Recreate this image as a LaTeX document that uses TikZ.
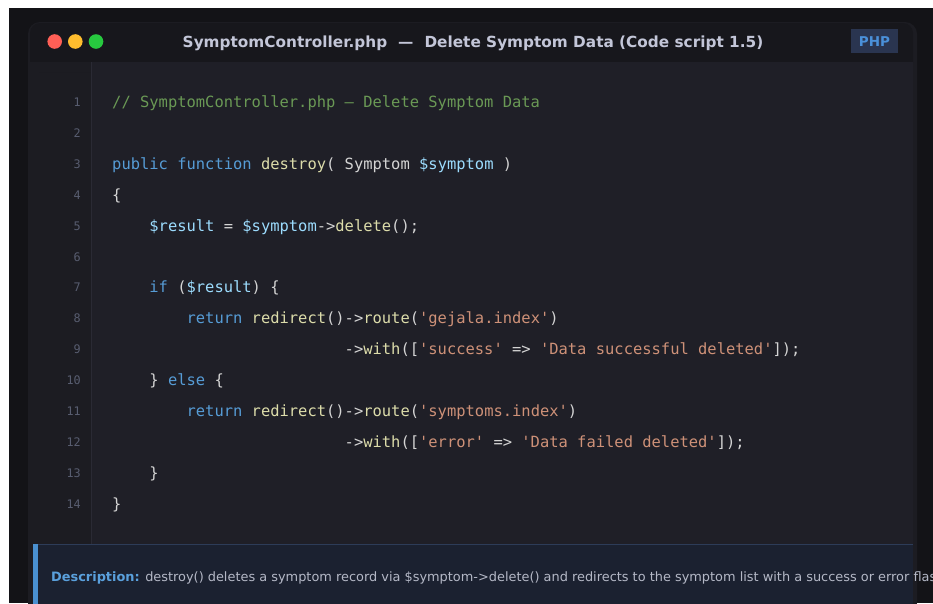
\documentclass[tikz,border=0pt]{standalone}
\usepackage{fontspec}
\setmainfont{DejaVu Sans}
\setmonofont{DejaVu Sans Mono}

% editor palette
\definecolor{outerbg}{HTML}{131317}
\definecolor{winbg}{HTML}{1C1C22}
\definecolor{titlebg}{HTML}{17171C}
\definecolor{codebg}{HTML}{1F1F27}
\definecolor{gutterline}{HTML}{2A2A34}
\definecolor{descbg}{HTML}{1B2130}
\definecolor{descline}{HTML}{2D3C58}
\definecolor{accent}{HTML}{4A90D0}
\definecolor{titletext}{HTML}{C3C6D8}
\definecolor{badgebg}{HTML}{2A3550}
\definecolor{badgetext}{HTML}{4A90D9}
\definecolor{lineno}{HTML}{585D70}
\definecolor{plain}{HTML}{D4D4D4}
\definecolor{kwblue}{HTML}{569CD6}
\definecolor{fnyellow}{HTML}{DCDCAA}
\definecolor{varblue}{HTML}{9CDCFE}
\definecolor{strorange}{HTML}{CE9178}
\definecolor{cmgreen}{HTML}{6A9955}
\definecolor{desctext}{HTML}{B4B8C6}
\definecolor{desclabel}{HTML}{5AA0DC}
\definecolor{dotred}{HTML}{FF5F56}
\definecolor{dotyellow}{HTML}{FFBD2E}
\definecolor{dotgreen}{HTML}{27C93F}

% syntax token helpers
\newcommand\Kw[1]{\textcolor{kwblue}{#1}}
\newcommand\Fn[1]{\textcolor{fnyellow}{#1}}
\newcommand\Vr[1]{\textcolor{varblue}{#1}}
\newcommand\St[1]{\textcolor{strorange}{#1}}
\newcommand\Q{\textquotesingle}

\tikzset{
  codeline/.style={anchor=base west, inner sep=0pt, text=plain,
    font=\fontsize{15.45}{18}\selectfont\ttfamily},
  lnum/.style={anchor=base east, inner sep=0pt, text=lineno,
    font=\fontsize{11.8}{14}\selectfont\ttfamily},
  dot/.style={circle, minimum size=14.6pt, inner sep=0pt},
}

\begin{document}
\begin{tikzpicture}[x=1pt,y=-1pt]
\useasboundingbox (0,0) rectangle (933,603);
\begin{scope}
\clip (0,0) rectangle (933,603);
% page and outer backdrop
\fill[white] (0,0) rectangle (933,603);
\fill[outerbg] (9,8) rectangle (933,603);
% editor window
\fill[winbg, rounded corners=12pt] (28,22) rectangle (917,615);
\fill[titlebg, rounded corners=10pt] (30,23) rectangle (913,72);
\fill[winbg] (30,62) rectangle (913,72);
% code area and gutter
\fill[codebg] (92,62) rectangle (913,544);
\draw[gutterline, line width=1.5pt] (91.5,62) -- (91.5,544);

% title bar
\node[dot, fill=dotred] (red) at (54.7,41.5) {};
\node[dot, fill=dotyellow] (yellow) at (75.3,41.5) {};
\node[dot, fill=dotgreen] (green) at (96,41.5) {};
\node[anchor=base, inner sep=0pt, text=titletext,
  font=\fontsize{15.3}{18}\selectfont\bfseries] (title) at (473,47.5)
  {SymptomController.php\hspace{11pt}—\hspace{11pt}Delete Symptom Data (Code script 1.5)};
\node[fill=badgebg, minimum width=47pt, minimum height=24pt, inner sep=0pt] (badge) at (874.5,41) {};
\node[anchor=base, inner sep=0pt, text=badgetext,
  font=\fontsize{13.5}{16}\selectfont\bfseries] (badgelabel) at (874.5,46) {PHP};

% line numbers
\foreach \n in {1,...,14}{
  \node[lnum] (ln\n) at (81,{106.5+(\n-1)*30.9}) {\n};
}

% source lines
\node[codeline] (c1) at (112,107.5) {\textcolor{cmgreen}{// SymptomController.php – Delete Symptom Data}};
\node[codeline] (c3) at (112,169.3) {\Kw{public} \Kw{function} \Fn{destroy}( Symptom \Vr{\$symptom} )};
\node[codeline] (c4) at (112,200.2) {\{};
\node[codeline] (c5) at (149.2,231.1) {\Vr{\$result} = \Vr{\$symptom}->\Fn{delete}();};
\node[codeline] (c7) at (149.2,292.9) {\Kw{if} (\Vr{\$result}) \{};
\node[codeline] (c8) at (186.4,323.8) {\Kw{return} \Fn{redirect}()->\Fn{route}(\St{\Q gejala.index\Q})};
\node[codeline] (c9) at (344.5,354.7) {->\Fn{with}([\St{\Q success\Q} => \St{\Q Data successful deleted\Q}]);};
\node[codeline] (c10) at (149.2,385.6) {\} \Kw{else} \{};
\node[codeline] (c11) at (186.4,416.5) {\Kw{return} \Fn{redirect}()->\Fn{route}(\St{\Q symptoms.index\Q})};
\node[codeline] (c12) at (344.5,447.4) {->\Fn{with}([\St{\Q error\Q} => \St{\Q Data failed deleted\Q}]);};
\node[codeline] (c13) at (149.2,478.3) {\}};
\node[codeline] (c14) at (112,509.2) {\}};

% description panel
\fill[descbg] (33,544) rectangle (913,615);
\draw[descline, line width=1.5pt] (33,544.5) -- (913,544.5);
\fill[accent] (33,544) rectangle (38,615);
\node[anchor=base west, inner sep=0pt, text=desctext,
  font=\fontsize{12.9}{16}\selectfont] (desc) at (51,581)
  {\textcolor{desclabel}{\bfseries Description:} destroy() deletes a symptom record via \$symptom->delete() and redirects to the symptom list with a success or error flash message.};
\end{scope}
\end{tikzpicture}
\end{document}
